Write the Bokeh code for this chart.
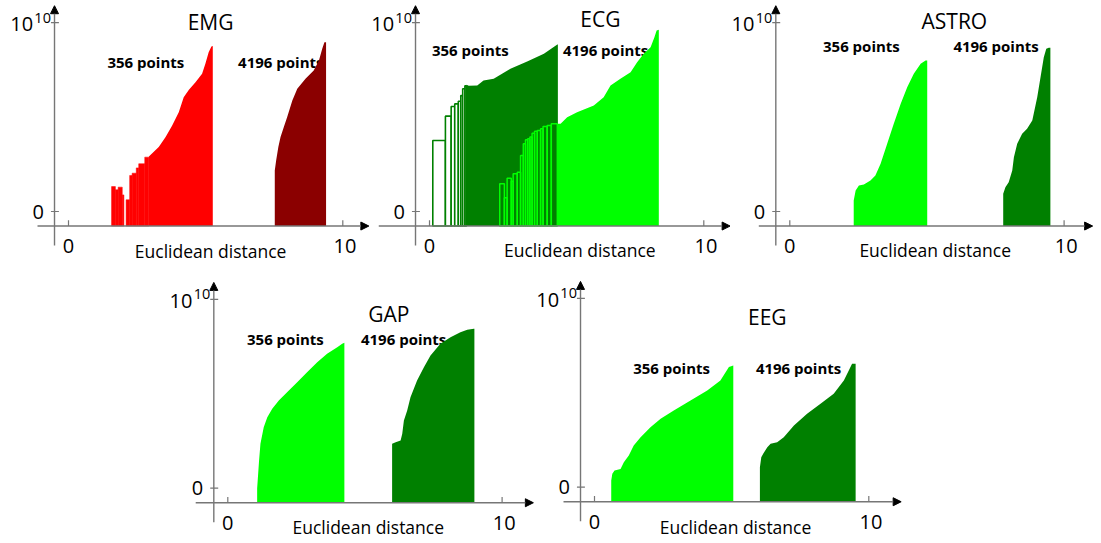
from bokeh.plotting import figure
from bokeh.layouts import column, row
from bokeh.models import Range1d, Arrow, NormalHead, Spacer
from bokeh.core.properties import value
from bokeh.embed import file_html
from bokeh.resources import INLINE

# ---------------- data (x: Euclidean distance, y: scaled count, 10 == 10^10) -------------
panel_titles = ["EMG", "ECG", "ASTRO", "GAP", "EEG"]
series_labels = ["356 points", "4196 points"]
x_tick_labels = ["0", "10"]
y_tick_labels = ["0", "10"]
y_tick_exp = "10"
x_axis_title = "Euclidean distance"

# EMG
emg356_bar_left = [1.57, 1.71, 1.81, 1.96, 2.10, 2.23, 2.32, 2.47, 2.56, 2.78]
emg356_bar_right = [1.71, 1.81, 1.96, 2.02, 2.23, 2.32, 2.47, 2.56, 2.78, 2.93]
emg356_bar_top = [1.32, 1.15, 1.29, 0.88, 0.62, 1.91, 2.03, 2.31, 2.53, 2.88]
emg356_x = [2.93, 3.29, 3.54, 3.78, 4.02, 4.20, 4.39, 4.63, 4.87, 4.99, 5.11, 5.21, 5.26]
emg356_y = [2.91, 3.41, 3.94, 4.56, 5.26, 6.05, 6.45, 6.85, 7.29, 7.82, 8.44, 8.74, 8.76]
emg4196_x = [7.52, 7.57, 7.65, 7.73, 7.85, 7.97, 8.16, 8.34, 8.64, 8.94, 9.13, 9.25, 9.33, 9.39]
emg4196_y = [2.17, 2.70, 3.41, 3.94, 4.47, 4.99, 5.88, 6.50, 7.03, 7.47, 8.00, 8.62, 8.97, 8.97]

# ECG
ecg356_bar_left = [0.12, 0.58, 0.79, 0.92, 1.05, 1.14, 1.21, 1.29]
ecg356_bar_right = [0.58, 0.79, 0.92, 1.05, 1.14, 1.21, 1.29, 1.35]
ecg356_bar_top = [3.76, 5.05, 5.56, 5.70, 5.84, 6.14, 6.50, 6.66]
ecg356_x = [1.35, 1.43, 1.74, 1.97, 2.34, 2.95, 3.56, 4.17, 4.66, 4.68]
ecg356_y = [6.71, 6.66, 6.67, 6.94, 7.03, 7.56, 7.94, 8.35, 8.85, 8.85]
ecg4196_bar_left = [2.56, 2.73, 2.83, 2.98, 3.05, 3.20, 3.32, 3.42, 3.50, 3.58, 3.66, 3.74,
                    3.83, 3.93, 4.05, 4.14, 4.29, 4.44]
ecg4196_bar_right = [2.73, 2.83, 2.98, 3.05, 3.20, 3.32, 3.42, 3.50, 3.58, 3.66, 3.74, 3.83,
                     3.93, 4.05, 4.14, 4.29, 4.44, 4.66]
ecg4196_bar_top = [1.47, 0.73, 1.76, 1.60, 2.00, 2.08, 2.97, 3.59, 3.80, 3.85, 3.94, 4.15,
                   4.25, 4.29, 4.38, 4.50, 4.56, 4.65]
ecg4196_x = [4.68, 4.78, 5.02, 5.38, 5.99, 6.35, 6.60, 6.96, 7.33, 7.57, 7.81, 8.06, 8.20, 8.28, 8.36]
ecg4196_y = [4.65, 4.65, 4.99, 5.26, 5.61, 6.05, 6.67, 7.03, 7.38, 7.91, 8.35, 8.70, 9.23, 9.59, 9.62]

# ASTRO
astro356_x = [2.33, 2.40, 2.52, 2.70, 2.94, 3.12, 3.31, 3.55, 3.79, 4.04, 4.28, 4.52, 4.77, 4.95, 5.01]
astro356_y = [0.58, 1.11, 1.38, 1.43, 1.64, 1.91, 2.53, 3.59, 4.65, 5.70, 6.58, 7.29, 7.82, 8.00, 8.00]
astro4196_x = [7.78, 7.86, 7.98, 8.11, 8.17, 8.29, 8.47, 8.65, 8.84, 9.02, 9.14, 9.26, 9.35, 9.44, 9.50]
astro4196_y = [0.94, 1.29, 1.55, 2.17, 2.88, 3.59, 4.12, 4.38, 4.82, 6.05, 7.11, 8.17, 8.62, 8.67, 8.67]

# GAP
gap356_x = [1.07, 1.09, 1.14, 1.19, 1.31, 1.44, 1.62, 1.86, 2.17, 2.53, 2.89, 3.26, 3.62, 3.99, 4.17, 4.25]
gap356_y = [0.00, 0.41, 1.47, 2.35, 3.23, 3.76, 4.21, 4.65, 5.09, 5.61, 6.14, 6.67, 7.12, 7.47, 7.65, 7.70]
gap4196_x = [5.99, 6.12, 6.30, 6.36, 6.42, 6.54, 6.66, 6.90, 7.15, 7.39, 7.75, 8.12, 8.48, 8.73, 8.97, 8.99]
gap4196_y = [2.35, 2.44, 2.53, 2.88, 3.59, 4.12, 4.82, 5.70, 6.41, 7.03, 7.65, 8.00, 8.26, 8.39, 8.44, 8.44]

# EEG
eeg356_x = [0.61, 0.65, 0.73, 0.95, 1.07, 1.25, 1.43, 1.68, 2.04, 2.41, 2.89, 3.50, 4.11, 4.59, 4.90, 5.06]
eeg356_y = [0.35, 0.71, 0.88, 0.97, 1.32, 1.68, 2.21, 2.65, 3.18, 3.62, 4.06, 4.59, 5.12, 5.65, 6.36, 6.45]
eeg4196_x = [6.03, 6.08, 6.15, 6.30, 6.42, 6.66, 6.90, 7.27, 7.75, 8.24, 8.72, 9.09, 9.27, 9.39, 9.52]
eeg4196_y = [1.06, 1.59, 1.77, 2.12, 2.30, 2.38, 2.65, 3.27, 3.89, 4.42, 4.95, 5.65, 6.18, 6.54, 6.54]

# ---------------- styling / layout ----------------
RED, DARKRED, LIME, GREEN = "#ff0000", "#8b0000", "#00ff00", "#008000"
FONT = value("Open Sans")
KX, KY = 27.43, 18.88          # pixels per data unit
AX_Y = -0.77                   # level of the x-axis line
AX_X = -0.51                   # position of the y-axis line
AXIS_COLOR = "#767676"


def make_panel(title, left, top, W, H, X0, Y0, xa0, xa1, title_xy, lab356_xy, lab4196_xy, xlab_xy):
    xs = (left - X0) / KX
    ye = (Y0 - top) / KY
    p = figure(width=W, height=H, x_range=Range1d(xs, xs + W / KX),
               y_range=Range1d(ye - H / KY, ye), output_backend="svg",
               toolbar_location=None, x_axis_location=None, y_axis_location=None,
               min_border=0, outline_line_color=None, background_fill_color="white",
               border_fill_color="white")
    p.xgrid.visible = False
    p.ygrid.visible = False
    p.text(x=[title_xy[0]], y=[title_xy[1]], text=[title], text_font=FONT,
           text_font_size=value("21px"), text_align="center", text_baseline="middle",
           text_color="black")
    p.text(x=[lab356_xy[0], lab4196_xy[0]], y=[lab356_xy[1], lab4196_xy[1]],
           text=series_labels, text_font=FONT, text_font_size=value("15px"),
           text_font_style="bold", text_align="center", text_baseline="middle",
           text_color="black")
    p.text(x=[xlab_xy[0]], y=[xlab_xy[1]], text=[x_axis_title], text_font=FONT,
           text_font_size=value("17.5px"), text_align="center", text_baseline="middle",
           text_color="black")
    p._ax = (xa0, xa1, ye)
    return p


def finish_axes(p):
    xa0, xa1, ye = p._ax
    ytip = min(10.9, ye - 0.05)
    head = dict(size=8, fill_color="black", line_color="black", line_width=1)
    p.add_layout(Arrow(end=NormalHead(**head), x_start=AX_X, y_start=-1.8, x_end=AX_X,
                       y_end=ytip, line_color=AXIS_COLOR, line_width=1.4))
    p.add_layout(Arrow(end=NormalHead(**head), x_start=xa0, y_start=AX_Y, x_end=xa1,
                       y_end=AX_Y, line_color=AXIS_COLOR, line_width=1.4))
    # tick marks
    p.segment(x0=[0, 10], y0=[AX_Y, AX_Y], x1=[0, 10], y1=[AX_Y + 0.3, AX_Y + 0.3],
              line_color=AXIS_COLOR, line_width=1.2)
    p.segment(x0=[AX_X - 0.13, AX_X - 0.13], y0=[0, 10], x1=[AX_X + 0.16, AX_X + 0.16],
              y1=[0, 10], line_color=AXIS_COLOR, line_width=1.2)
    # tick labels
    p.text(x=[0, 10.08], y=[-1.82, -1.82], text=x_tick_labels, text_font=FONT,
           text_font_size=value("20px"), text_align="center", text_baseline="middle",
           text_color="black")
    p.text(x=[AX_X - 0.39, AX_X - 0.78], y=[0, 9.93], text=y_tick_labels, text_font=FONT,
           text_font_size=value("20px"), text_align="right", text_baseline="middle",
           text_color="black")
    p.text(x=[AX_X - 0.13], y=[10.27], text=[y_tick_exp], text_font=FONT,
           text_font_size=value("14.5px"), text_align="right", text_baseline="middle",
           text_color="black")


def area(p, xs, ys, color):
    p.varea(x=xs, y1=[AX_Y] * len(xs), y2=ys, fill_color=color, fill_alpha=1.0)


def bars(p, lefts, rights, tops, color, fill=None, lw=0):
    if fill is None:
        p.quad(left=lefts, right=rights, bottom=[AX_Y] * len(lefts), top=tops,
               fill_color=None, fill_alpha=0, line_color=color, line_width=lw)
    elif lw > 0:
        p.quad(left=lefts, right=rights, bottom=[AX_Y] * len(lefts), top=tops,
               fill_color=fill, line_color=color, line_width=lw)
    else:
        p.quad(left=lefts, right=rights, bottom=[AX_Y] * len(lefts), top=tops,
               fill_color=color, line_color=color, line_width=0.5)


# EMG
p1 = make_panel(panel_titles[0], 0, 0, 369, 272, 68, 211, -1.13, 10.95,
                (5.18, 10.03), (2.82, 7.94), (7.74, 7.94), (5.18, -2.07))
bars(p1, emg356_bar_left, emg356_bar_right, emg356_bar_top, RED, fill=RED)
area(p1, emg356_x, emg356_y, RED)
area(p1, emg4196_x, emg4196_y, DARKRED)
finish_axes(p1)

# ECG
p2 = make_panel(panel_titles[1], 369, 0, 361, 272, 429, 211, -1.85, 10.96,
                (6.23, 10.2), (1.49, 8.56), (6.42, 8.56), (5.48, -2.03))
bars(p2, ecg356_bar_left, ecg356_bar_right, ecg356_bar_top, GREEN, fill="white", lw=1.6)
area(p2, ecg356_x, ecg356_y, GREEN)
bars(p2, ecg4196_bar_left, ecg4196_bar_right, ecg4196_bar_top, LIME, fill=None, lw=1.5)
area(p2, ecg4196_x, ecg4196_y, LIME)
finish_axes(p2)

# ASTRO
p3 = make_panel(panel_titles[2], 730, 0, 371, 272, 789.3, 211, -1.13, 11.04,
                (6.0, 10.1), (2.61, 8.76), (7.52, 8.76), (5.30, -2.03))
area(p3, astro356_x, astro356_y, LIME)
area(p3, astro4196_x, astro4196_y, GREEN)
finish_axes(p3)

# GAP
p4 = make_panel(panel_titles[3], 150, 272, 384, 271, 227.3, 487.7, -1.17, 11.14,
                (5.87, 9.24), (2.10, 7.91), (6.41, 7.91), (5.12, -2.07))
area(p4, gap356_x, gap356_y, LIME)
area(p4, gap4196_x, gap4196_y, GREEN)
finish_axes(p4)

# EEG
p5 = make_panel(panel_titles[4], 534, 272, 371, 271, 594, 486.7, -1.13, 11.18,
                (6.3, 9.0), (2.81, 6.32), (7.44, 6.32), (5.14, -2.12))
area(p5, eeg356_x, eeg356_y, LIME)
area(p5, eeg4196_x, eeg4196_y, GREEN)
finish_axes(p5)

layout = column(row(p1, p2, p3, spacing=0),
                row(Spacer(width=150, height=271), p4, p5, spacing=0), spacing=0)

open("out.html", "w").write(file_html(layout, INLINE))
